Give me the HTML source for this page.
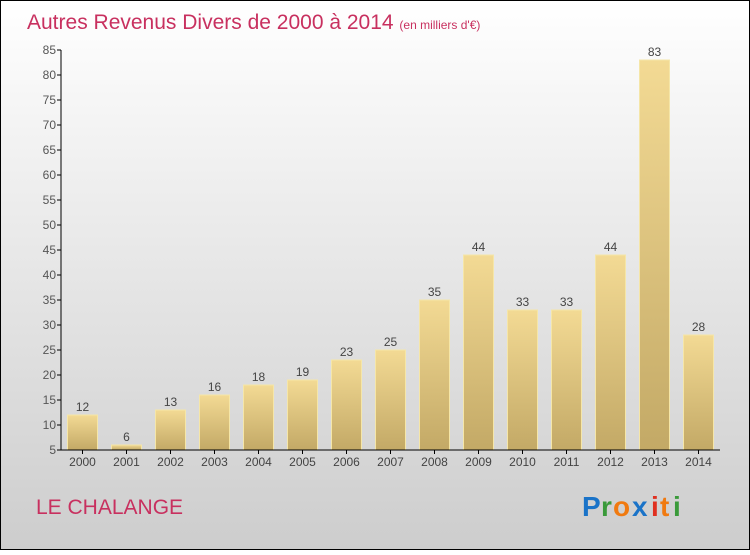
<!DOCTYPE html>
<html><head><meta charset="utf-8"><style>
body{margin:0;width:750px;height:550px;overflow:hidden;font-family:"Liberation Sans",sans-serif}
</style></head><body>
<svg width="750" height="550" xmlns="http://www.w3.org/2000/svg">
<defs>
<linearGradient id="bg" x1="0" y1="0" x2="0" y2="1"><stop offset="0" stop-color="#ffffff"/><stop offset="1" stop-color="#cdcdcd"/></linearGradient>
<linearGradient id="bar" x1="0" y1="0" x2="0" y2="1"><stop offset="0" stop-color="#f3da94"/><stop offset="1" stop-color="#c3a966"/></linearGradient>
</defs>
<rect x="0.5" y="0.5" width="749" height="549" fill="url(#bg)" stroke="#000"/>
<text x="27" y="29" font-size="21" fill="#c8305f">Autres Revenus Divers de 2000 à 2014 <tspan font-size="12">(en milliers d'€)</tspan></text>
<g id="plot"></g>
<text x="36" y="514" font-size="21" fill="#c8305f">LE CHALANGE</text>
<g font-size="28" font-weight="bold">
<text x="582" y="516" fill="#1a73c8">P</text><text x="601" y="516" fill="#3a9a3a">r</text><text x="613" y="516" fill="#f07a10">o</text><text x="632" y="516" fill="#1a73c8">x</text><text x="651" y="516" fill="#e03020">i</text><text x="660" y="516" fill="#f07a10">t</text><text x="673" y="516" fill="#3a9a3a">i</text>
</g>
</svg>
<script>
const categories=["2000","2001","2002","2003","2004","2005","2006","2007","2008","2009","2010","2011","2012","2013","2014"];
const values=[12,6,13,16,18,19,23,25,35,44,33,33,44,83,28];
const yTicks=[5,10,15,20,25,30,35,40,45,50,55,60,65,70,75,80,85];
const NS="http://www.w3.org/2000/svg";
const g=document.getElementById('plot');
const x0=60,band=44,yMin=5,yMax=85,yTop=50,yBot=450;
const y=v=>yBot-(v-yMin)/(yMax-yMin)*(yBot-yTop);
const xc=i=>x0+band*i+band/2+0.5;
function mk(t,a){const e=document.createElementNS(NS,t);for(const k in a)e.setAttribute(k,a[k]);g.appendChild(e);return e;}
values.forEach((v,i)=>{
 const r=mk('rect',{x:xc(i)-15,y:y(v),width:30,height:yBot-y(v),fill:'url(#bar)',stroke:'#f5e6a8','stroke-width':1});
 
 
 const t=mk('text',{x:xc(i),y:y(v)-4,'text-anchor':'middle','font-size':12,fill:'#444'});t.textContent=v;
 
 
 const c=mk('text',{x:xc(i),y:466,'text-anchor':'middle','font-size':12,fill:'#444'});c.textContent=categories[i];
 
 
 mk('line',{x1:xc(i),x2:xc(i),y1:yBot,y2:yBot+4,stroke:'#000'});
});
yTicks.forEach(v=>{
 mk('line',{x1:57,x2:61,y1:y(v),y2:y(v),stroke:'#000'});
 const t=mk('text',{x:56,y:y(v)+4,'text-anchor':'end','font-size':12,fill:'#555'});t.textContent=v;
 
 
});
const ya=mk('line',{x1:61,x2:61,y1:yTop,y2:yBot,stroke:'#000'});


const xa=mk('line',{x1:61,x2:720,y1:yBot,y2:yBot,stroke:'#000'});


</script>
</body></html>
